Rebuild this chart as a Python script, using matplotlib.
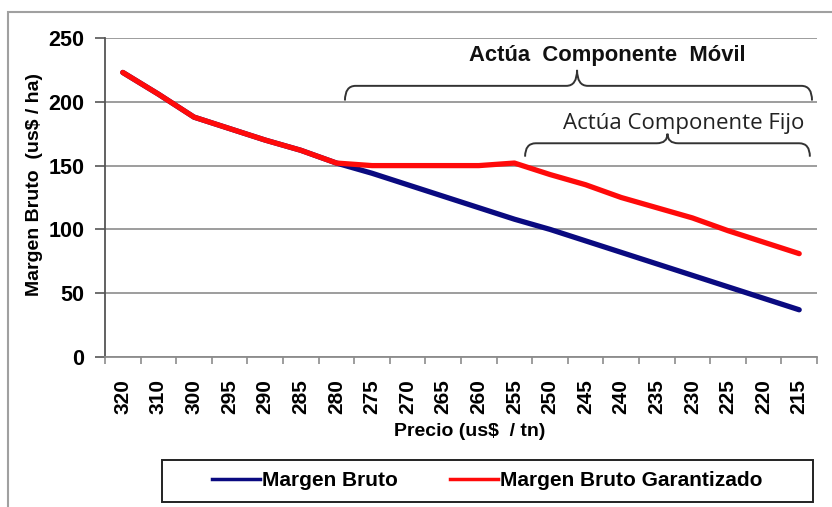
import matplotlib
matplotlib.use("Agg")
import matplotlib.pyplot as plt
from matplotlib.path import Path
from matplotlib.patches import PathPatch, Rectangle
from matplotlib.lines import Line2D

precios = ["320", "310", "300", "295", "290", "285", "280", "275", "270", "265",
           "260", "255", "250", "245", "240", "235", "230", "225", "220", "215"]
margen_bruto = [223, 206, 188, 179, 170, 162, 152, 144, 135, 126,
                117, 108, 100, 91, 82, 73, 64, 55, 46, 37]
margen_garantizado = [223, 206, 188, 179, 170, 162, 152, 150, 150, 150,
                      150, 152, 143, 135, 125, 117, 109, 99, 90, 81]
y_ticks = [0, 50, 100, 150, 200, 250]

plt.rcParams['font.family'] = ['Liberation Sans', 'DejaVu Sans']

fig = plt.figure(figsize=(8.32, 5.07), dpi=100)
ax = fig.add_axes([105/832, 1-357/507, (817-105)/832, (357-38)/507])

x = list(range(len(precios)))
ax.plot(x, margen_bruto, color='#0a0a80', lw=3.8, solid_capstyle='round', zorder=3)
ax.plot(x, margen_garantizado, color='#ff0a0a', lw=3.8, solid_capstyle='round', zorder=4)

ax.set_xlim(-0.5, len(precios) - 0.5)
ax.set_ylim(0, 250)
ax.set_yticks(y_ticks)
ax.set_yticklabels([str(v) for v in y_ticks], fontsize=15.5, fontweight='bold')
ax.yaxis.grid(True, color='#8c8c8c', lw=1.2)
ax.set_axisbelow(True)

ax.set_xticks(x)
ax.set_xticklabels(precios, rotation=90, fontsize=15, fontweight='bold')
ax.set_xticks([i - 0.5 for i in range(len(precios) + 1)], minor=True)
ax.tick_params(axis='x', which='major', length=0, pad=16)
ax.tick_params(axis='x', which='minor', length=5, color='#8c8c8c', width=1.2)
ax.tick_params(axis='y', length=7, width=1.2, color='#555555', pad=8)

for s in ['top', 'right']:
    ax.spines[s].set_visible(False)
ax.spines['left'].set_color('#555555')
ax.spines['left'].set_linewidth(1.3)
ax.spines['bottom'].set_color('#8c8c8c')
ax.spines['bottom'].set_linewidth(1.3)

ax.set_ylabel("Margen Bruto  (us$ / ha)", fontsize=14, fontweight='bold')
ax.yaxis.set_label_coords((43 - 105) / 712, (357 - 185) / 319)
fig.text(470/832, 1-432/507, "Precio (us$  / tn)", fontsize=14, fontweight='bold',
         ha='center', va='center')


def brace(ax, x0, x1, xm, y_low, y_mid, y_top, rx=0.3):
    verts = [
        (x0, y_low), (x0, y_mid), (x0 + rx, y_mid),
        (xm - rx, y_mid), (xm, y_mid), (xm, y_top),
        (xm, y_mid), (xm + rx, y_mid),
        (x1 - rx, y_mid), (x1, y_mid), (x1, y_low),
    ]
    codes = [Path.MOVETO, Path.CURVE3, Path.CURVE3,
             Path.LINETO, Path.CURVE3, Path.CURVE3,
             Path.CURVE3, Path.CURVE3,
             Path.LINETO, Path.CURVE3, Path.CURVE3]
    ax.add_patch(PathPatch(Path(verts, codes), fill=False, edgecolor='#333333',
                           lw=1.4, clip_on=False, zorder=5))


brace(ax, 6.24, 19.36, 12.76, 201, 212.5, 225)
brace(ax, 11.3, 19.3, 15.3, 157, 167.5, 175)

ax.text(13.62, 236, "Actúa  Componente  Móvil", fontsize=15.8, fontweight='bold',
        ha='center', va='center', color='#111111')
ax.text(15.76, 183, "Actúa Componente Fijo", fontsize=16, family=['Open Sans', 'DejaVu Sans'],
        ha='center', va='center', color='#222222')

# Legend
fig.patches.append(Rectangle((162/832, 1-502/507), (813-162)/832, 42/507,
                             transform=fig.transFigure, fill=False,
                             edgecolor='#222222', lw=1.4))
handles = [Line2D([], [], color='#0a0a80', lw=2.5),
           Line2D([], [], color='#ff0a0a', lw=2.5)]
fig.legend(handles, ["Margen Bruto", "Margen Bruto Garantizado"], ncol=2,
           loc='center', bbox_to_anchor=(487/832, 1-481/507), frameon=False,
           prop={'size': 15, 'weight': 'bold'}, handlelength=2.3,
           handletextpad=0.1, columnspacing=2.5)

# Outer chart border
fig.patches.append(Rectangle((8/832, -0.05), 1.0, 1 - 12/507 + 0.05,
                             transform=fig.transFigure, fill=False,
                             edgecolor='#a0a0a0', lw=1.5))

fig.savefig("out.png", dpi=100)
